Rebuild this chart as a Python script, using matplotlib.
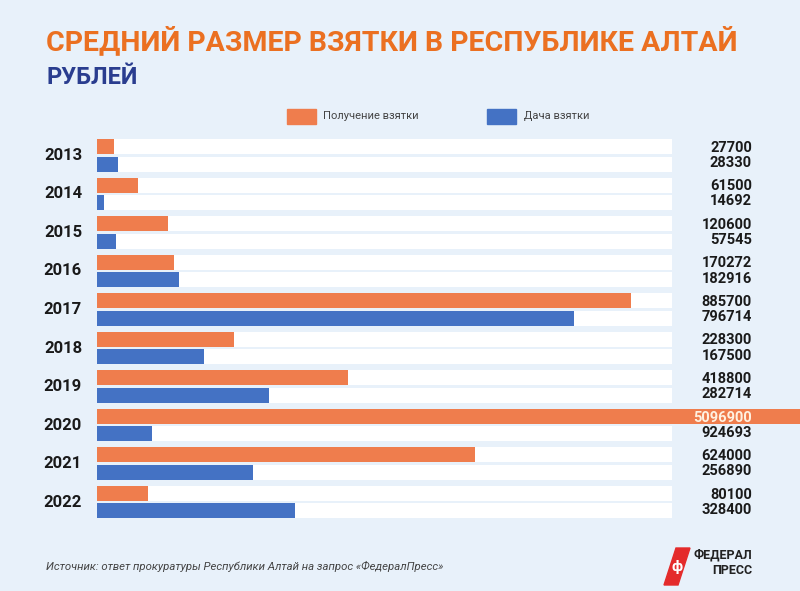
import matplotlib.pyplot as plt
from matplotlib.patches import Rectangle, Polygon
from matplotlib.transforms import blended_transform_factory

plt.rcParams['font.family'] = ['Roboto', 'DejaVu Sans']

years = ['2013', '2014', '2015', '2016', '2017', '2018', '2019', '2020', '2021', '2022']
# bar lengths as they are drawn in the picture (rubles)
get_bribe = [28200, 67500, 117300, 127300, 885700, 227400, 416600, 5096900, 626800, 84100]
give_bribe = [33900, 11600, 30500, 136100, 791600, 177600, 285500, 90800, 257900, 327600]
# numbers printed at the right
get_labels = ['27700', '61500', '120600', '170272', '885700', '228300', '418800', '5096900', '624000', '80100']
give_labels = ['28330', '14692', '57545', '182916', '796714', '167500', '282714', '924693', '256890', '328400']

BG = '#e8f1fa'
ORANGE = '#ef7d4d'
BLUE = '#4472c4'
TRACK = 953000
XMAX = 1166200

fig = plt.figure(figsize=(8, 5.91), dpi=100)
fig.patch.set_facecolor(BG)

ax = fig.add_axes([0.1216, 0.1178, 0.8784, 0.6518])
ax.set_facecolor('none')
ax.axis('off')
ax.set_xlim(0, XMAX)
ax.set_ylim(9.5, -0.5)

h = 0.39
off = 0.226
ypos = list(range(len(years)))
yo = [y - off for y in ypos]
yb = [y + off for y in ypos]

ax.barh(yo, [TRACK] * len(years), height=h, color='white', zorder=1)
ax.barh(yb, [TRACK] * len(years), height=h, color='white', zorder=1)
ax.barh(yo, get_bribe, height=h, color=ORANGE, zorder=2)
ax.barh(yb, give_bribe, height=h, color=BLUE, zorder=2)

tr = blended_transform_factory(fig.transFigure, ax.transData)
for i, yr in enumerate(years):
    ax.text(63 / 800, ypos[i], yr, transform=tr, ha='center', va='center',
            fontsize=12, fontweight='bold', color='#1a1a1a')
    c = '#fff1e0' if get_bribe[i] > XMAX else '#1a1a1a'
    ax.text(752 / 800, yo[i] + 0.03, get_labels[i], transform=tr, ha='right', va='center',
            fontsize=10.5, fontweight='bold', color=c, zorder=3)
    ax.text(752 / 800, yb[i] - 0.03, give_labels[i], transform=tr, ha='right', va='center',
            fontsize=10.5, fontweight='bold', color='#1a1a1a', zorder=3)

# titles
fig.text(46 / 800, 1 - 41 / 591, 'СРЕДНИЙ РАЗМЕР ВЗЯТКИ В РЕСПУБЛИКЕ АЛТАЙ',
         fontsize=20.5, fontweight='bold', color='#eb7021', va='center', ha='left')
fig.text(46 / 800, 1 - 77 / 591, 'РУБЛЕЙ', fontsize=17, fontweight='bold',
         color='#2a3d8f', va='center', ha='left')

# legend
fig.add_artist(Rectangle((287 / 800, 1 - 124 / 591), 29 / 800, 15 / 591,
                         transform=fig.transFigure, color=ORANGE))
fig.text(323 / 800, 1 - 116.5 / 591, 'Получение взятки', fontsize=8,
         color='#444444', va='center')
fig.add_artist(Rectangle((487 / 800, 1 - 124 / 591), 29 / 800, 15 / 591,
                         transform=fig.transFigure, color=BLUE))
fig.text(524 / 800, 1 - 116.5 / 591, 'Дача взятки', fontsize=8,
         color='#444444', va='center')

# source
fig.text(46 / 800, 1 - 566 / 591,
         'Источник: ответ прокуратуры Республики Алтай на запрос «ФедералПресс»',
         fontsize=8.2, style='italic', color='#444444', va='center')

# logo
pts = [(664 / 800, 1 - 585 / 591), (676 / 800, 1 - 548 / 591),
       (690 / 800, 1 - 548 / 591), (678 / 800, 1 - 585 / 591)]
fig.add_artist(Polygon(pts, closed=True, transform=fig.transFigure, color='#e42b2b'))
fig.text(677 / 800, 1 - 567 / 591, 'ф', fontsize=11, fontweight='bold',
         color='white', ha='center', va='center')
fig.text(752 / 800, 1 - 555 / 591, 'ФЕДЕРАЛ', fontsize=9, fontweight='bold',
         color='#222222', ha='right', va='center')
fig.text(752 / 800, 1 - 570 / 591, 'ПРЕСС', fontsize=9, fontweight='bold',
         color='#222222', ha='right', va='center')

fig.savefig('out.png', dpi=100, facecolor=fig.get_facecolor())
